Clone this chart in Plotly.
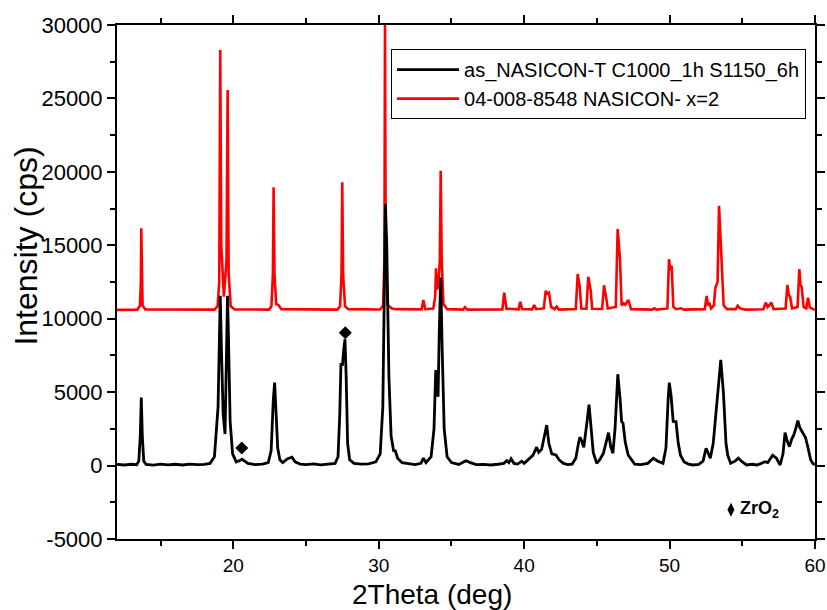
import plotly.graph_objects as go

# Measured pattern: (2theta [deg], intensity [cps]) vertices
sample_profile = [
    (12.0, 80), (12.5, 40), (13.0, 90), (13.35, 60), (13.50, 300), (13.60, 2000),
    (13.67, 4625), (13.74, 2000), (13.84, 300), (14.0, 80), (14.5, 30), (15.0, 100),
    (15.5, 50), (16.0, 90), (16.5, 40), (17.0, 100), (17.5, 60), (18.0, 80),
    (18.4, 150), (18.7, 600), (18.95, 4000), (19.05, 11000), (19.10, 11570),
    (19.18, 8000), (19.30, 3500), (19.43, 2150), (19.52, 6000), (19.60, 11570),
    (19.66, 9000), (19.78, 3000), (19.95, 800), (20.2, 250), (20.45, 350),
    (20.60, 430), (20.78, 300), (21.0, 150), (21.5, 60), (22.0, 100), (22.4, 200),
    (22.60, 1000), (22.75, 4500), (22.84, 5650), (22.92, 4000), (23.05, 1200),
    (23.2, 400), (23.4, 200), (23.7, 450), (24.03, 565), (24.25, 250), (24.6, 100),
    (25.0, 60), (25.5, 110), (26.0, 50), (26.5, 80), (27.0, 150), (27.2, 600),
    (27.32, 3500), (27.40, 6960), (27.50, 6800), (27.60, 8000), (27.68, 8600),
    (27.76, 6000), (27.86, 1500), (28.0, 400), (28.3, 150), (28.8, 100),
    (29.3, 120), (29.8, 250), (30.1, 800), (30.28, 4000), (30.40, 15000),
    (30.46, 17800), (30.55, 15000), (30.70, 6000), (30.85, 2000), (31.03, 950),
    (31.12, 1060), (31.3, 500), (31.6, 200), (32.0, 120), (32.5, 60), (32.9, 150),
    (33.07, 500), (33.25, 200), (33.6, 600), (33.80, 2500), (33.92, 6510),
    (34.02, 5000), (34.08, 4690), (34.16, 9000), (34.26, 12800), (34.36, 8000),
    (34.50, 2500), (34.70, 600), (35.0, 200), (35.5, 80), (36.0, 330), (36.3, 200),
    (36.7, 60), (37.2, 80), (37.7, 40), (38.2, 90), (38.6, 150), (38.8, 330),
    (38.95, 200), (39.10, 460), (39.3, 150), (39.55, 100), (39.83, 300),
    (40.0, 150), (40.3, 400), (40.6, 700), (40.86, 1250), (41.0, 900),
    (41.20, 1100), (41.35, 1800), (41.55, 2760), (41.70, 1500), (41.90, 800),
    (42.19, 720), (42.4, 400), (42.7, 150), (43.0, 60), (43.3, 100), (43.55, 500),
    (43.75, 1600), (43.84, 1930), (43.95, 1700), (44.10, 1250), (44.30, 2800),
    (44.46, 4150), (44.60, 2600), (44.75, 900), (44.99, 150), (45.2, 400),
    (45.45, 840), (45.60, 1400), (45.80, 2240), (45.95, 1300), (46.10, 840),
    (46.25, 2500), (46.44, 6220), (46.60, 4500), (46.70, 3000), (46.80, 2880),
    (46.95, 1600), (47.15, 720), (47.30, 500), (47.6, 100), (48.0, 60),
    (48.5, 150), (48.88, 500), (49.2, 300), (49.55, 150), (49.75, 1200),
    (49.90, 4500), (49.98, 5650), (50.10, 4800), (50.25, 3000), (50.44, 2990),
    (50.60, 1500), (50.75, 700), (51.0, 250), (51.3, 100), (51.6, 40), (52.0, 80),
    (52.3, 300), (52.51, 1180), (52.65, 900), (52.80, 500), (53.0, 1500),
    (53.25, 4500), (53.52, 7190), (53.70, 5000), (53.88, 1500), (54.0, 700),
    (54.2, 150), (54.5, 300), (54.73, 500), (55.0, 250), (55.3, 40), (55.7, 90),
    (56.0, 40), (56.3, 150), (56.56, 260), (56.75, 200), (57.09, 700),
    (57.35, 500), (57.6, 40), (57.80, 800), (57.94, 2240), (58.08, 1700),
    (58.24, 1290), (58.40, 1800), (58.55, 2100), (58.70, 2600), (58.82, 3060),
    (58.95, 2600), (59.10, 2300), (59.21, 2080), (59.35, 1900), (59.50, 1300),
    (59.70, 400), (59.85, 150), (60.0, 60),
]

# Reference card 04-008-8548 profile, offset above the measured pattern
reference_profile = [
    (12.0, 10600), (13.40, 10620), (13.58, 10900), (13.64, 12500), (13.67, 16160),
    (13.70, 12500), (13.76, 10900), (13.95, 10630), (18.70, 10620), (18.92, 10850),
    (19.03, 12500), (19.10, 28300), (19.17, 15000), (19.35, 11500), (19.53, 14000),
    (19.61, 25575), (19.68, 13000), (19.82, 10850), (20.10, 10630), (22.45, 10620),
    (22.62, 10850), (22.72, 13000), (22.77, 18950), (22.83, 13000), (22.95, 11000),
    (23.10, 10935), (23.3, 10650), (27.15, 10620), (27.34, 10850), (27.44, 13000),
    (27.49, 19290), (27.55, 13000), (27.68, 10850), (27.9, 10650), (30.10, 10630),
    (30.30, 10900), (30.39, 14000), (30.43, 30000), (30.48, 14000), (30.60, 10950),
    (30.9, 10700), (31.2, 10650), (32.95, 10640), (33.07, 11280), (33.2, 10650),
    (33.75, 10700), (33.88, 11500), (33.94, 13430), (34.00, 12000), (34.10, 12200),
    (34.20, 14000), (34.26, 20080), (34.33, 14000), (34.45, 11000), (34.7, 10650),
    (35.8, 10620), (35.93, 10780), (36.1, 10620), (38.5, 10630), (38.63, 11770),
    (38.78, 10680), (39.62, 10640), (39.73, 11160), (39.86, 10660), (40.55, 10640),
    (40.69, 10935), (40.83, 10650), (41.35, 10700), (41.48, 11890), (41.60, 11700),
    (41.71, 11770), (41.85, 10800), (42.10, 10650), (42.23, 10820), (42.4, 10620),
    (43.55, 10660), (43.68, 13045), (43.82, 12180), (43.93, 10700), (44.28, 10680),
    (44.41, 12860), (44.57, 11960), (44.68, 10680), (45.36, 10660), (45.49, 12280),
    (45.63, 11500), (45.75, 10700), (46.0, 10750), (46.30, 10800), (46.43, 16110),
    (46.59, 14050), (46.70, 10900), (46.82, 11050), (46.95, 10950), (47.16, 11280),
    (47.35, 10650), (48.8, 10620), (48.95, 10710), (49.1, 10620), (49.85, 10700),
    (49.96, 14050), (50.05, 13300), (50.14, 13610), (50.26, 10800), (50.45, 10650),
    (50.78, 10710), (51.0, 10620), (52.42, 10650), (52.55, 11550), (52.65, 10900),
    (52.73, 11100), (52.85, 10700), (53.05, 10900), (53.14, 12070), (53.30, 12500),
    (53.40, 17680), (53.50, 15500), (53.58, 14525), (53.72, 10900), (53.95, 10650),
    (54.55, 10650), (54.68, 10890), (54.85, 10700), (55.2, 10620), (56.45, 10640),
    (56.61, 11100), (56.75, 10800), (57.00, 11100), (57.15, 10650), (57.98, 10700),
    (58.10, 12300), (58.20, 11600), (58.29, 11500), (58.42, 10700), (58.80, 10800),
    (58.92, 13370), (59.00, 12300), (59.08, 12180), (59.22, 10800), (59.40, 10700),
    (59.52, 11430), (59.65, 10750), (59.85, 10650), (60.0, 10600),
]

# ZrO2 reflections marked with diamonds
zro2_2theta = [20.58, 27.70]
zro2_counts = [1200, 9050]

series_names = ["as_NASICON-T C1000_1h S1150_6h", "04-008-8548 NASICON- x=2"]
x_ticks = [20, 30, 40, 50, 60]
y_ticks = [-5000, 0, 5000, 10000, 15000, 20000, 25000, 30000]

FONT = "Arial, Liberation Sans, sans-serif"

fig = go.Figure()
fig.add_trace(go.Scatter(
    x=[p[0] for p in reference_profile], y=[p[1] for p in reference_profile],
    mode="lines", name=series_names[1],
    line=dict(color="#ff0000", width=2.6),
))
fig.add_trace(go.Scatter(
    x=[p[0] for p in sample_profile], y=[p[1] for p in sample_profile],
    mode="lines", name=series_names[0],
    line=dict(color="#000000", width=2.8),
))
fig.add_trace(go.Scatter(
    x=zro2_2theta, y=zro2_counts, mode="markers", showlegend=False,
    marker=dict(symbol="diamond", size=10, color="black"),
))
# ZrO2 key in the lower right corner
fig.add_trace(go.Scatter(
    x=[54.22], y=[-3000], mode="markers", showlegend=False,
    marker=dict(symbol="diamond-tall", size=10, color="black"),
))
fig.add_annotation(
    x=54.72, y=-3000, xref="x", yref="y", xanchor="left", yanchor="middle",
    text="<b>ZrO<sub>2</sub></b>", showarrow=False,
    font=dict(family=FONT, size=18, color="black"),
)

# Axis titles
fig.add_annotation(
    x=0.452, y=-0.108, xref="paper", yref="paper", xanchor="center",
    yanchor="middle", text="2Theta (deg)", showarrow=False,
    font=dict(family=FONT, size=28, color="black"),
)
fig.add_annotation(
    x=-0.131, y=0.570, xref="paper", yref="paper", xanchor="center",
    yanchor="middle", text="Intensity (cps)", textangle=-90, showarrow=False,
    font=dict(family=FONT, size=32, color="black"),
)

axis_common = dict(
    showgrid=False, zeroline=False, showline=True, linecolor="black",
    linewidth=2, mirror="allticks", ticks="outside", ticklen=8,
    tickwidth=1.5, tickcolor="black", automargin=False,
)
fig.update_xaxes(
    range=[12, 60], tickvals=x_ticks, ticktext=[str(v) for v in x_ticks],
    tickfont=dict(family=FONT, size=19, color="black"),
    minor=dict(dtick=5, tick0=0, ticks="outside", ticklen=5, tickwidth=1.5,
               tickcolor="black"),
    **axis_common,
)
fig.update_yaxes(
    range=[-5000, 30000], tickvals=y_ticks, ticktext=[str(v) for v in y_ticks],
    tickfont=dict(family=FONT, size=22, color="black"),
    minor=dict(dtick=2500, tick0=0, ticks="outside", ticklen=5, tickwidth=1.5,
               tickcolor="black"),
    **axis_common,
)
fig.update_layout(
    width=827, height=610,
    margin=dict(l=117, r=12, t=25, b=71),
    plot_bgcolor="white", paper_bgcolor="white",
    legend=dict(
        x=0.3926, y=0.953, xanchor="left", yanchor="top",
        traceorder="reversed", bgcolor="white", bordercolor="black",
        borderwidth=1, font=dict(family=FONT, size=20, color="black"),
        itemwidth=62, tracegroupgap=0,
    ),
)

fig.write_html("out.html")
